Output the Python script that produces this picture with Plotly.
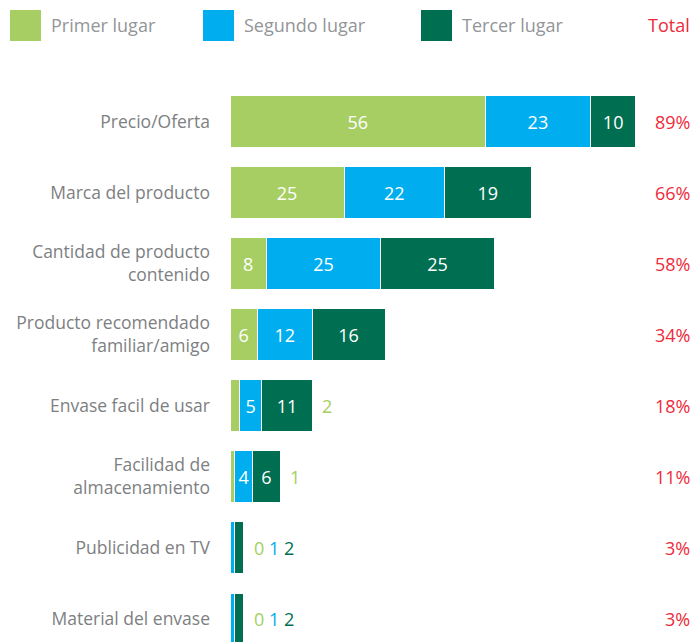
import plotly.graph_objects as go

categories = ["Precio/Oferta", "Marca del producto", "Cantidad de producto<br>contenido",
              "Producto recomendado<br>familiar/amigo", "Envase facil de usar",
              "Facilidad de<br>almacenamiento", "Publicidad en TV", "Material del envase"]
primer = [56, 25, 8, 6, 2, 1, 0, 0]
segundo = [23, 22, 25, 12, 5, 4, 1, 1]
tercer = [10, 19, 25, 16, 11, 6, 2, 2]
totales = ["89%", "66%", "58%", "34%", "18%", "11%", "3%", "3%"]
series_names = ["Primer lugar", "Segundo lugar", "Tercer lugar"]

colors = ["#a6ce63", "#00aeef", "#006f51"]
FONT = "Open Sans"
MIN_INSIDE = 4

fig = go.Figure()
series = [primer, segundo, tercer]
for name, vals, col in zip(series_names, series, colors):
    fig.add_trace(go.Bar(
        y=categories, x=vals, orientation="h", name=name,
        marker=dict(color=col, line=dict(color="white", width=1)),
        text=[str(v) if v >= MIN_INSIDE else "" for v in vals],
        textposition="inside", insidetextanchor="middle", textangle=0,
        textfont=dict(color="white", size=18, family=FONT),
        showlegend=False, hoverinfo="skip",
    ))

annotations = []
for i, cat in enumerate(categories):
    tot = sum(s[i] for s in series)
    outs = [f'<span style="color:{c}">{s[i]}</span>' for s, c in zip(series, colors) if s[i] < MIN_INSIDE]
    if outs:
        annotations.append(dict(x=tot, y=cat, xref="x", yref="y", text=" ".join(outs),
                                showarrow=False, xanchor="left", xshift=8,
                                font=dict(size=18, family=FONT)))
    annotations.append(dict(x=1, y=cat, xref="paper", yref="y", text=totales[i],
                            showarrow=False, xanchor="right", xshift=-1,
                            font=dict(size=18, family=FONT, color="#ee2a3b")))

# legend
shapes = []
leg_x = [10, 203, 421]
for lx, name, col in zip(leg_x, series_names, colors):
    shapes.append(dict(type="rect", xref="paper", yref="paper",
                       x0=(lx - 230) / 463, x1=(lx + 31 - 230) / 463,
                       y0=(642 - 41) / 556, y1=(642 - 10) / 556,
                       fillcolor=col, line=dict(width=0)))
    annotations.append(dict(x=(lx + 39 - 230) / 463, y=(642 - 25) / 556, xref="paper", yref="paper",
                            text=name, showarrow=False, xanchor="left", yanchor="middle",
                            font=dict(size=18, family=FONT, color="#939598")))
annotations.append(dict(x=1, y=(642 - 25) / 556, xref="paper", yref="paper", text="Total",
                        showarrow=False, xanchor="right", yanchor="middle", xshift=-1,
                        font=dict(size=18, family=FONT, color="#ee2a3b")))

fig.update_layout(
    width=693, height=642,
    margin=dict(l=230, r=0, t=86, b=0),
    barmode="stack", bargap=0.28,
    plot_bgcolor="white", paper_bgcolor="white",
    xaxis=dict(range=[0, 101.5], visible=False),
    yaxis=dict(range=[7.33, -0.5], showgrid=False, zeroline=False, showline=False,
               ticks="", ticklabelstandoff=19,
               tickfont=dict(size=17.5, family=FONT, color="#7d7f82")),
    annotations=annotations, shapes=shapes,
    uniformtext=dict(minsize=18, mode="show"),
    font=dict(family=FONT),
)

fig.write_html("out.html", config={"displayModeBar": False},
               post_script="document.body.style.margin='0';document.body.style.overflow='hidden';")
